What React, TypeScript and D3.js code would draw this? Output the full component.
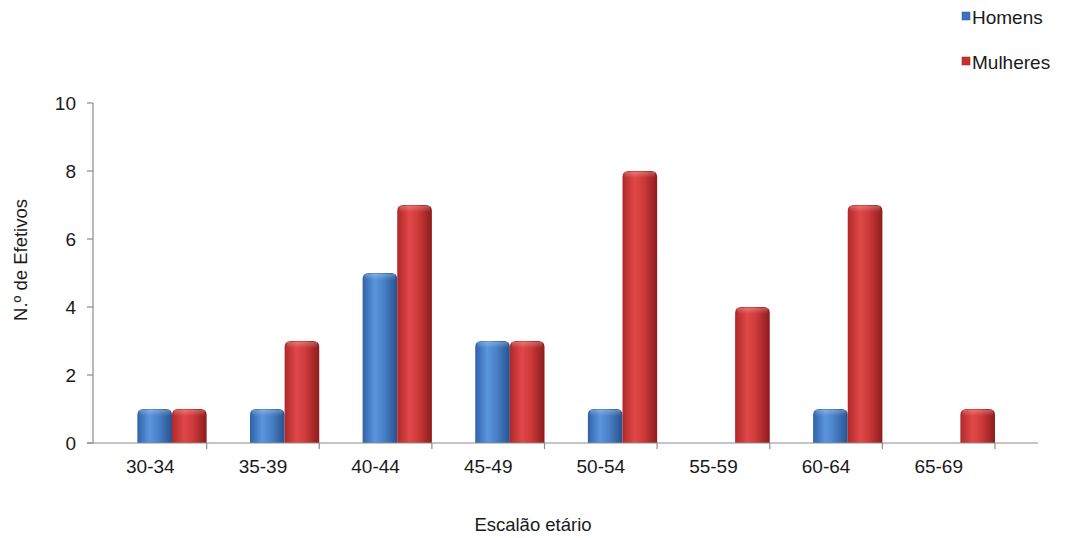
import React from "react";
import * as d3 from "d3";

const categories = ["30-34", "35-39", "40-44", "45-49", "50-54", "55-59", "60-64", "65-69"];
const series = ["Homens", "Mulheres"];
const homens = [1, 1, 5, 3, 1, 0, 1, 0];
const mulheres = [1, 3, 7, 3, 8, 4, 7, 1];
const yTicks = [0, 2, 4, 6, 8, 10];

const W = 1067;
const H = 538;
const FONT = "'Liberation Sans', Arial, sans-serif";

export default function App() {
  const x = d3.scaleBand<string>().domain(categories).range([94, 995]).padding(0);
  const step = x.step();
  const inner = d3.scaleBand<string>().domain(series).range([step * 0.385, step]).padding(0);
  const y = d3.scaleLinear().domain([0, 10]).range([443, 103]);
  const values = [homens, mulheres];
  const grads = ["gBlue", "gRed"];

  const barPath = (x0: number, w: number, v: number) => {
    const top = y(v);
    const bot = y(0);
    const r = Math.min(6, (bot - top) / 2);
    return `M${x0},${bot} L${x0},${top + r} Q${x0},${top} ${x0 + r},${top} L${x0 + w - r},${top} Q${x0 + w},${top} ${x0 + w},${top + r} L${x0 + w},${bot} Z`;
  };

  return (
    <svg width={W} height={H} style={{ position: "absolute", left: 0, top: 0, background: "#fff" }}>
      <defs>
        <linearGradient id="gBlue" x1="0" x2="1" y1="0" y2="0">
          <stop offset="0" stopColor="#2f62a8" />
          <stop offset="0.35" stopColor="#5a95dc" />
          <stop offset="0.6" stopColor="#4a82c8" />
          <stop offset="1" stopColor="#28528f" />
        </linearGradient>
        <linearGradient id="gRed" x1="0" x2="1" y1="0" y2="0">
          <stop offset="0" stopColor="#b02828" />
          <stop offset="0.35" stopColor="#e04848" />
          <stop offset="0.6" stopColor="#cf3a3a" />
          <stop offset="1" stopColor="#8c1c1c" />
        </linearGradient>
        <linearGradient id="gTop" x1="0" x2="0" y1="0" y2="1">
          <stop offset="0" stopColor="#fff" stopOpacity="0.25" />
          <stop offset="1" stopColor="#fff" stopOpacity="0" />
        </linearGradient>
      </defs>

      {/* bars */}
      {categories.map((c, i) =>
        series.map((s, j) => {
          const v = values[j][i];
          if (!v) return null;
          const x0 = (x(c) as number) + (inner(s) as number);
          const w = inner.bandwidth();
          return (
            <g key={c + s}>
              <path d={barPath(x0, w, v)} fill={`url(#${grads[j]})`} />
              <rect x={x0 + 2} y={y(v) + 1} width={w - 4} height={6} fill="url(#gTop)" />
            </g>
          );
        })
      )}

      {/* y axis */}
      <line x1={93} x2={93} y1={103} y2={443} stroke="#8c8c8c" strokeWidth={1.2} />
      {yTicks.map((t) => (
        <g key={t}>
          <line x1={87} x2={93} y1={y(t)} y2={y(t)} stroke="#8c8c8c" strokeWidth={1.2} />
          <text x={76} y={y(t)} dy="0.36em" textAnchor="end" fontFamily={FONT} fontSize={19} fill="#1a1a1a">
            {t}
          </text>
        </g>
      ))}

      {/* x axis */}
      <line x1={87} x2={1038} y1={443} y2={443} stroke="#8c8c8c" strokeWidth={1.2} />
      {categories.map((c) => (
        <line key={"t" + c} x1={(x(c) as number) + step} x2={(x(c) as number) + step} y1={443} y2={449} stroke="#8c8c8c" strokeWidth={1.2} />
      ))}
      {categories.map((c) => (
        <text key={"l" + c} x={(x(c) as number) + step / 2} y={473} textAnchor="middle" fontFamily={FONT} fontSize={19} fill="#1a1a1a">
          {c}
        </text>
      ))}

      {/* axis titles */}
      <text x={533} y={531} textAnchor="middle" fontFamily={FONT} fontSize={18.5} fill="#1a1a1a">
        Escalão etário
      </text>
      <text transform="translate(27,260) rotate(-90)" textAnchor="middle" fontFamily={FONT} fontSize={18.5} fill="#1a1a1a">
        N.º de Efetivos
      </text>

      {/* legend */}
      {series.map((s, j) => (
        <g key={"lg" + s} transform={`translate(962,${17 + j * 45})`}>
          <rect x={0} y={-5} width={8} height={8} fill={j === 0 ? "#3b73bf" : "#c53030"} stroke={j === 0 ? "#2a5a9a" : "#962020"} strokeWidth={0.5} />
          <text x={10} y={0} dy="0.35em" fontFamily={FONT} fontSize={19} fill="#1a1a1a">
            {s}
          </text>
        </g>
      ))}
    </svg>
  );
}
